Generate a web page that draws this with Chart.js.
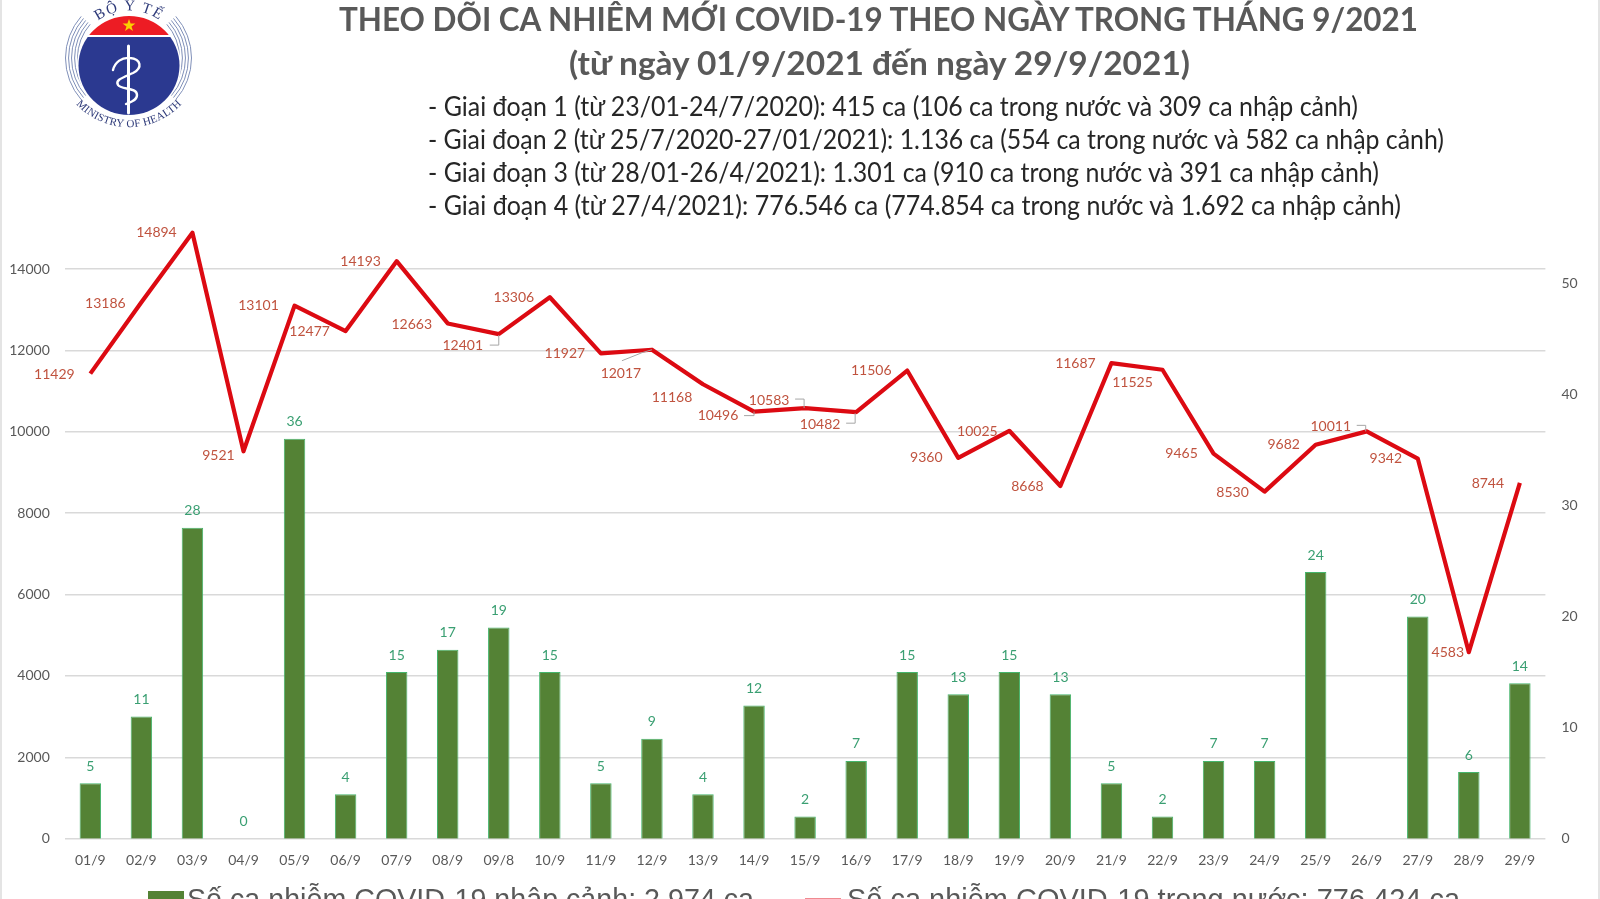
<!DOCTYPE html>
<html lang="vi">
<head>
<meta charset="utf-8">
<title>Ca nhiễm mới COVID-19 tháng 9/2021</title>
<script src="https://cdn.jsdelivr.net/npm/chart.js@4/dist/chart.umd.min.js"></script>
<style>
  html, body { margin: 0; padding: 0; width: 1600px; height: 899px; overflow: hidden; background: #fff; }
  #page { position: relative; width: 1600px; height: 899px; overflow: hidden; }
  #analyticsChart { position: absolute; left: 0; top: 0; }
  .frame { position: absolute; top: 0; width: 2px; height: 899px; background: #e4e4e4; }
  .line { position: absolute; white-space: nowrap; transform-origin: 0 0; font-family: Lato, "Noto Sans", sans-serif; }
  .legendText { position: absolute; white-space: nowrap; transform-origin: 0 0; font-family: "Liberation Sans", Arial, sans-serif; color: #595959; }
  .swatch { position: absolute; }
  #logo { position: absolute; left: 55px; top: 0; }
</style>
</head>
<body>
<div id="page">
  <canvas id="analyticsChart" width="1600" height="899"></canvas>
  <svg id="logo" width="150" height="132" viewBox="55 0 150 132"></svg>
  <div class="frame" style="left:0"></div>
  <div class="frame" style="left:1598px"></div>
</div>
<script>
const days = ["01/9","02/9","03/9","04/9","05/9","06/9","07/9","08/9","09/8","10/9","11/9","12/9","13/9","14/9","15/9","16/9","17/9","18/9","19/9","20/9","21/9","22/9","23/9","24/9","25/9","26/9","27/9","28/9","29/9"];
const importedCases = [5,11,28,0,36,4,15,17,19,15,5,9,4,12,2,7,15,13,15,13,5,2,7,7,24,null,20,6,14];
const domesticCases = [11429,13186,14894,9521,13101,12477,14193,12663,12401,13306,11927,12017,11168,10496,10583,10482,11506,9360,10025,8668,11687,11525,9465,8530,9682,10011,9342,4583,8744];
const domesticTicks = [0,2000,4000,6000,8000,10000,12000,14000];
const importedTicks = [0,10,20,30,40,50];
const importedLabel = "Số ca nhiễm COVID-19 nhập cảnh: 2.974 ca";
const domesticLabel = "Số ca nhiễm COVID-19 trong nước: 776.424 ca";
const titleLines = [
  "THEO DÕI CA NHIỄM MỚI COVID-19 THEO NGÀY TRONG THÁNG 9/2021",
  "(từ ngày 01/9/2021 đến ngày 29/9/2021)"
];
const stageLines = [
  "- Giai đoạn 1 (từ 23/01-24/7/2020): 415 ca (106 ca trong nước và 309 ca nhập cảnh)",
  "- Giai đoạn 2 (từ 25/7/2020-27/01/2021): 1.136 ca (554 ca trong nước và 582 ca nhập cảnh)",
  "- Giai đoạn 3 (từ 28/01-26/4/2021): 1.301 ca (910 ca trong nước và 391 ca nhập cảnh)",
  "- Giai đoạn 4 (từ 27/4/2021): 776.546 ca (774.854 ca trong nước và 1.692 ca nhập cảnh)"
];

// label position relative to its point, by day index
const domesticLabelOffsets = [[-36,1],[-36,1],[-36,0],[-25,4],[-36,0],[-36,0],[-36,0],[-36,1],[-36,11],[-36,0],[-36,0],[-31,24],[-31,13],[-36,4],[-36,-8],[-36,12],[-36,0],[-32,0],[-32,1],[-33,0],[-36,0],[-30,13],[-32,0],[-32,1],[-32,0],[-36,-5],[-32,0],[-21,0],[-32,1]];
// grey leader lines, drawn back from the point
const leaders = {
  8: [[-9,11],[0,11],[0,1]],
  11: [[-30,11],[-10,3],[0,0]],
  13: [[-10,4],[0,4],[0,0]],
  14: [[-10,-9],[-1,-9],[-1,0]],
  15: [[-10,11],[-1,11],[-1,1]],
  25: [[-10,-6],[-1,-6],[-1,0]]
};

const RED_TEXT = "#c0533f";
const GREEN_TEXT = "#3a9f72";
const CHART_FONT = "Lato, 'Noto Sans', sans-serif";

const pointLabels = {
  id: "pointLabels",
  afterDatasetsDraw(chart) {
    const ctx = chart.ctx;
    const bars = chart.getDatasetMeta(0).data;
    const points = chart.getDatasetMeta(1).data;
    ctx.save();
    ctx.font = "14px " + CHART_FONT;
    ctx.textAlign = "center";
    ctx.textBaseline = "middle";

    ctx.fillStyle = GREEN_TEXT;
    importedCases.forEach((v, i) => {
      if (v === null) return;
      ctx.fillText(String(v), bars[i].x, bars[i].y - 17);
    });

    ctx.strokeStyle = "#a6a6a6";
    ctx.lineWidth = 1;
    Object.keys(leaders).forEach(k => {
      const p = points[k];
      ctx.beginPath();
      leaders[k].forEach((o, n) => {
        if (n === 0) ctx.moveTo(p.x + o[0], p.y + o[1]);
        else ctx.lineTo(p.x + o[0], p.y + o[1]);
      });
      ctx.stroke();
    });

    ctx.fillStyle = RED_TEXT;
    domesticCases.forEach((v, i) => {
      const o = domesticLabelOffsets[i];
      ctx.fillText(String(v), points[i].x + o[0], points[i].y + o[1]);
    });
    ctx.restore();
  }
};

const ctx = document.getElementById("analyticsChart").getContext("2d");
const analyticsChart = new Chart(ctx, {
  data: {
    labels: days,
    datasets: [
      {
        type: "bar",
        label: importedLabel,
        data: importedCases,
        yAxisID: "yImported",
        order: 2,
        backgroundColor: "#548235",
        borderColor: "#45b56c",
        borderWidth: 1,
        categoryPercentage: 1,
        barPercentage: 0.42
      },
      {
        type: "line",
        label: domesticLabel,
        data: domesticCases,
        yAxisID: "yDomestic",
        order: 1,
        borderColor: "#dc0a12",
        borderWidth: 4.2,
        borderJoinStyle: "round",
        tension: 0,
        pointRadius: 0,
        fill: false
      }
    ]
  },
  options: {
    responsive: false,
    animation: false,
    layout: { padding: { top: 208, left: 0, right: 0, bottom: 0 } },
    plugins: { legend: { display: false }, title: { display: false }, tooltip: { enabled: false } },
    scales: {
      x: {
        grid: { display: false },
        border: { display: false },
        ticks: { color: "#595959", font: { family: CHART_FONT, size: 14 }, padding: 5, maxRotation: 0, autoSkip: false },
        afterFit: (s) => { s.height = 60.3; }
      },
      yDomestic: {
        position: "left",
        min: 0,
        max: 15500,
        grid: { color: "#d9d9d9", lineWidth: 1.4, drawTicks: false },
        border: { display: false },
        ticks: { color: "#595959", font: { family: CHART_FONT, size: 14 }, padding: 15, callback: (v) => String(v) },
        afterBuildTicks: (s) => { s.ticks = domesticTicks.map(value => ({ value })); },
        afterFit: (s) => { s.width = 64.8; }
      },
      yImported: {
        position: "right",
        min: 0,
        max: 56.77,
        grid: { display: false, drawTicks: false },
        border: { display: false },
        ticks: { color: "#595959", font: { family: CHART_FONT, size: 14 }, padding: 16, callback: (v) => String(v) },
        afterBuildTicks: (s) => { s.ticks = importedTicks.map(value => ({ value })); },
        afterFit: (s) => { s.width = 54.6; }
      }
    }
  },
  plugins: [pointLabels]
});

// header text, each line squeezed to the span it has in the picture
const page = document.getElementById("page");
function addLine(text, cls, left, right, centerY, size, weight, color) {
  const el = document.createElement("div");
  el.className = cls;
  el.textContent = text;
  el.style.fontSize = size + "px";
  el.style.fontWeight = weight;
  el.style.color = color;
  el.style.lineHeight = size + "px";
  el.style.left = left + "px";
  el.style.top = (centerY - size / 2) + "px";
  page.appendChild(el);
  el.style.transform = "scaleX(" + (right - left) / el.getBoundingClientRect().width + ")";
  return el;
}
addLine(titleLines[0], "line", 339, 1418, 18, 33, 700, "#595959");
addLine(titleLines[1], "line", 569, 1190, 62, 33, 700, "#595959");
const stageRight = [1358, 1444, 1379, 1401];
const stageY = [105, 138, 171, 204];
stageLines.forEach((t, i) => addLine(t, "line", 428, stageRight[i], stageY[i], 27, 400, "#262626"));

// legend built from the datasets, cut off by the bottom of the page as in the picture
function addSwatch(left, top, w, h, color) {
  const el = document.createElement("div");
  el.className = "swatch";
  el.style.cssText = "left:" + left + "px;top:" + top + "px;width:" + w + "px;height:" + h + "px;background:" + color;
  page.appendChild(el);
}
const sets = analyticsChart.data.datasets;
addSwatch(147.5, 890.7, 36.5, 20, sets[0].backgroundColor);
addLine(sets[0].label, "legendText", 187, 754, 899, 30, 400, "#595959");
addSwatch(804.5, 897.5, 36.5, 3, "#f08a90");
addLine(sets[1].label, "legendText", 847, 1460, 899, 30, 400, "#595959");

// Bo Y te logo
const arcs = [];
[51, 54, 57, 60, 63].forEach(r => {
  const dx = (r * 0.75).toFixed(1), dy = (r * 0.66).toFixed(1);
  arcs.push(`<path d="M${128.5 - dx} ${58 - dy} A${r} ${r} 0 0 0 ${128.5 - dx} ${58 + +dy}" />`);
  arcs.push(`<path d="M${128.5 + +dx} ${58 - dy} A${r} ${r} 0 0 1 ${128.5 + +dx} ${58 + +dy}" />`);
});
document.getElementById("logo").innerHTML = `
  <defs>
    <clipPath id="capClip"><rect x="70" y="10" width="120" height="25"/></clipPath>
    <clipPath id="bodyClip"><rect x="70" y="37" width="120" height="85"/></clipPath>
    <path id="arcTop" d="M94 24 A52 52 0 0 1 164 24"/>
    <path id="arcBottom" d="M78 106 A72 72 0 0 0 180 106"/>
  </defs>
  <g fill="none" stroke="#7f8fb8" stroke-width="1">${arcs.join("")}</g>
  <ellipse cx="129" cy="65.5" rx="52" ry="50" fill="#fff"/>
  <ellipse cx="129" cy="65.5" rx="50.5" ry="49.5" fill="#ed1c24" clip-path="url(#capClip)"/>
  <ellipse cx="129" cy="65.5" rx="50.5" ry="49.5" fill="#2b3990" clip-path="url(#bodyClip)"/>
  <polygon points="129,19 130.6,23.6 135.4,23.6 131.5,26.5 133,31 129,28.2 125,31 126.5,26.5 122.6,23.6 127.4,23.6" fill="#fbd000"/>
  <g fill="none" stroke="#fff" stroke-linecap="round">
    <line x1="128.5" y1="46" x2="128.5" y2="113" stroke-width="3"/>
    <path d="M113 70 C115 62 122 57 130 58 C141 59 143 68 133 73 C122 78 115 80 118 85 C121 90 137 87 137 95 C137 101 130 102 126 104" stroke-width="2.4"/>
  </g>
  <g font-family="'Liberation Serif', serif" fill="#2f3b7a">
    <text font-size="15" letter-spacing="1.5"><textPath href="#arcTop" startOffset="50%" text-anchor="middle">BỘ Y TẾ</textPath></text>
    <text font-size="11" letter-spacing="0.2"><textPath href="#arcBottom" startOffset="50%" text-anchor="middle">MINISTRY OF HEALTH</textPath></text>
  </g>`;
</script>
</body>
</html>
